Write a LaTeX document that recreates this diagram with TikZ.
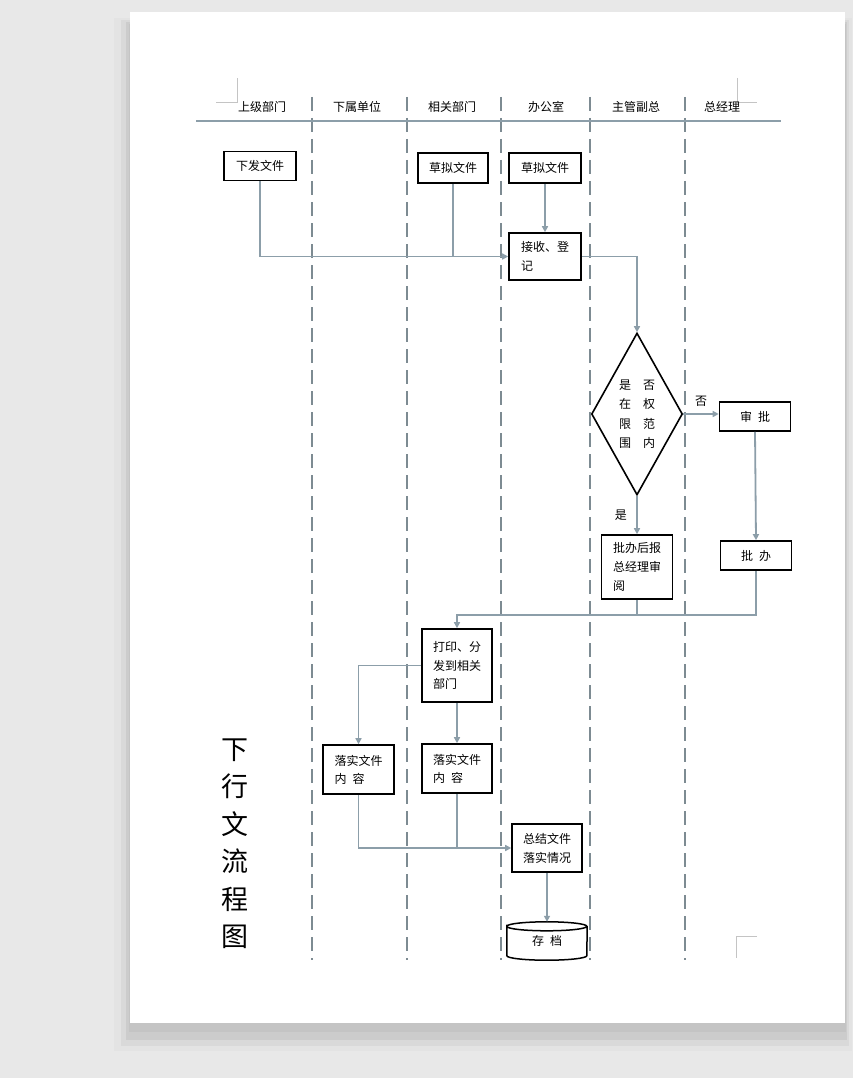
\documentclass[tikz,border=0pt]{standalone}
\usepackage{fontspec}
\setmainfont{Noto Sans CJK SC}
\usetikzlibrary{arrows.meta,shapes.geometric}
\definecolor{pagebg}{HTML}{E8E8E8}
\definecolor{linegray}{HTML}{8C9EA9}
\definecolor{lanegray}{HTML}{7D8B92}
\definecolor{markgray}{HTML}{C4C4C4}
\begin{document}
\begin{tikzpicture}[x=1pt,y=1pt,>={Triangle[length=6pt,width=6pt]},
	font=\fontsize{12pt}{19pt}\selectfont,
	box/.style={draw=black,line width=1.6pt,minimum width=71pt,minimum height=29pt,inner sep=0pt,align=left},
	lane/.style={draw=lanegray,line width=1.8pt,dash pattern=on 14pt off 7pt},
	flow/.style={draw=linegray,line width=1.8pt},
	crop/.style={draw=markgray,line width=0.8pt}]
	  \useasboundingbox (0,0) rectangle (853,-1078);
	  \fill[pagebg] (0,0) rectangle (853,-1078);
	  \fill[black!11] (114,-18) rectangle (852,-1051);
	  \fill[black!15] (121,-20) rectangle (849,-1046);
	  \fill[black!20] (126,-22) rectangle (847,-1040);
	  \fill[black!23] (129,-24) rectangle (846,-1032);
	  \fill[white] (130,-12) rectangle (845,-1023);
	  \draw[crop] (216,-102) -- (237,-102) -- (237,-78);
	  \draw[crop] (737,-78) -- (737,-102) -- (757,-102);
	  \draw[crop] (757,-936) -- (736,-936) -- (736,-958);
	  \draw[lane] (312,-97) -- (312,-960);
	  \draw[lane] (407,-97) -- (407,-960);
	  \draw[lane] (501,-97) -- (501,-960);
	  \draw[lane] (590,-97) -- (590,-960);
	  \draw[lane] (685,-97) -- (685,-960);
	  \draw[draw=linegray,line width=2pt] (196,-121) -- (781,-121);
	  \node (sjbm) at (262,-107) {上级部门};
	  \node (xsdw) at (357,-107) {下属单位};
	  \node (xgbm) at (452,-107) {相关部门};
	  \node (bgs) at (546,-107) {办公室};
	  \node (zgfz) at (636,-107) {主管副总};
	  \node (zjl) at (722,-107) {总经理};
	  \node[box,minimum width=72pt] (xiafa) at (260,-166) {下发文件};
	  \node[box,minimum width=70pt,minimum height=30pt] (caoni1) at (453,-168) {草拟文件};
	  \node[box,minimum width=72pt,minimum height=30pt] (caoni2) at (545,-168) {草拟文件};
	  \node[box,minimum width=72pt,minimum height=47pt,text width=48pt] (jieshou) at (545,-256.5) {接收、登\\记};
	  \node[draw=black,line width=1.6pt,shape=diamond,aspect=0.56,minimum width=91pt,minimum height=162pt,inner sep=0pt,align=center,font=\fontsize{12pt}{19.5pt}\selectfont] (panduan) at (637,-414) {是\hspace{1em}否\\在\hspace{1em}权\\限\hspace{1em}范\\围\hspace{1em}内};
	  \node[box] (shenpi) at (755,-416.5) {审\hspace{0.5em}批};
	  \node[box] (piban) at (756,-555.5) {批\hspace{0.5em}办};
	  \node[box,minimum height=64pt,text width=48pt] (pibanhou) at (637,-567) {批办后报\\总经理审\\阅};
	  \node[box,minimum width=70pt,minimum height=73pt,text width=48pt,font=\fontsize{12pt}{18.5pt}\selectfont] (dayin) at (457,-665.5) {打印、分\\发到相关\\部门};
	  \node[box,minimum height=49pt,text width=48pt,font=\fontsize{12pt}{18pt}\selectfont] (luoshi1) at (358.5,-769.5) {落实文件\\内\hspace{0.5em}容};
	  \node[box,minimum width=70pt,minimum height=49pt,text width=48pt,font=\fontsize{12pt}{18pt}\selectfont] (luoshi2) at (457,-768.5) {落实文件\\内\hspace{0.5em}容};
	  \node[box,minimum width=70pt,minimum height=48pt,text width=48pt,font=\fontsize{12pt}{19pt}\selectfont] (zongjie) at (547,-848) {总结文件\\落实情况};
	  \node[minimum width=80pt,minimum height=38pt,inner sep=0pt] (cundang) at (547,-941) {存\hspace{0.5em}档};
	  \draw[line width=1.5pt] ([yshift=-4.5pt]cundang.north west) arc[start angle=180,end angle=-180,x radius=40pt,y radius=4.5pt] -- ([yshift=4.5pt]cundang.south west) arc[start angle=180,end angle=360,x radius=40pt,y radius=4.5pt] -- ([yshift=-4.5pt]cundang.north east);
	  \node[font=\fontsize{27pt}{37.5pt}\selectfont,align=center] (biaoti) at (235,-843.5) {下\\行\\文\\流\\程\\图};
	  \draw[flow,->] (xiafa.south) |- (jieshou.west);
	  \draw[flow] (caoni1.south) -- (caoni1.south |- jieshou.west);
	  \draw[flow,->] (caoni2.south) -- (jieshou.north);
	  \draw[flow,->] (jieshou.east) -| (panduan.north);
	  \draw[flow,->] (panduan.east) -- (panduan.east -| shenpi.west) node[midway,above=3pt,black] (fou) {否};
	  \draw[flow,->] (shenpi.south) -- (piban.south |- piban.north);
	  \draw[flow,->] (panduan.south) -- (pibanhou.north) node[midway,left=6pt,black] (shi) {是};
	  \draw[flow] (pibanhou.south) -- ++(0,-15);
	  \draw[flow,->] (piban.south) -- ++(0,-44) -| (dayin.north);
	  \draw[flow,->] (dayin.west) -| (luoshi1.north);
	  \draw[flow,->] (dayin.south) -- (luoshi2.north);
	  \draw[flow,->] (luoshi1.south) |- (zongjie.west);
	  \draw[flow] (luoshi2.south) -- (luoshi2.south |- zongjie.west);
	  \draw[flow,->] (zongjie.south) -- (cundang.north);
	\end{tikzpicture}
\end{document}
